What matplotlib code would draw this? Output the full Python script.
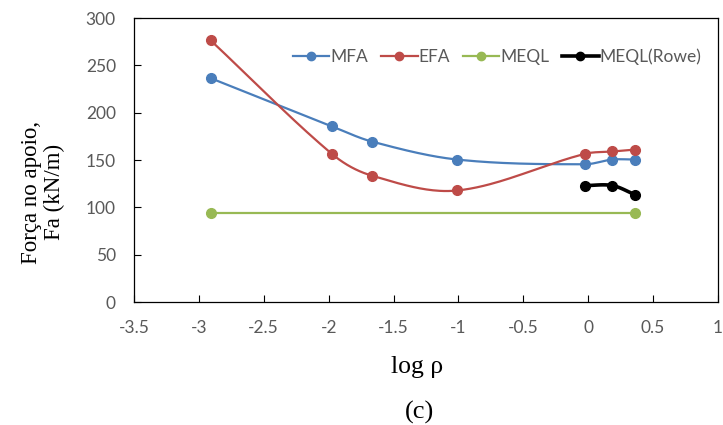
# coding=utf-8
# Força no apoio vs log rho (c)

import numpy as np
import matplotlib
matplotlib.use('Agg')
import matplotlib.pyplot as plt

# dados
x_mfa = [-2.91, -1.975, -1.667, -1.01, -0.025, 0.187, 0.36]
y_mfa = [236.5, 185.6, 169.5, 150.5, 145.5, 150.5, 150.5]

x_efa = [-2.91, -1.975, -1.667, -1.01, -0.025, 0.187, 0.36]
y_efa = [276.5, 156.5, 133.5, 117.8, 156.5, 159.0, 161.0]

x_meql = [-2.91, 0.36]
y_meql = [94.5, 94.5]

x_rowe = [-0.025, 0.187, 0.36]
y_rowe = [123.0, 123.0, 113.5]

xticks = [-3.5, -3, -2.5, -2, -1.5, -1, -0.5, 0, 0.5, 1]
yticks = [0, 50, 100, 150, 200, 250, 300]


def suave(x, y, n=40):
    # linha suavizada (spline de Hermite em x)
    x = np.asarray(x, float)
    y = np.asarray(y, float)
    if len(x) < 3:
        return x, y
    m = np.zeros(len(x))
    m[0] = (y[1] - y[0]) / (x[1] - x[0])
    m[-1] = (y[-1] - y[-2]) / (x[-1] - x[-2])
    for i in range(1, len(x) - 1):
        m[i] = (y[i+1] - y[i-1]) / (x[i+1] - x[i-1])
    xs, ys = [], []
    t = np.linspace(0, 1, n)
    for i in range(len(x) - 1):
        h = x[i+1] - x[i]
        h00 = 2*t**3 - 3*t**2 + 1
        h10 = t**3 - 2*t**2 + t
        h01 = -2*t**3 + 3*t**2
        h11 = t**3 - t**2
        xs.extend(x[i] + t*h)
        ys.extend(h00*y[i] + h10*h*m[i] + h01*y[i+1] + h11*h*m[i+1])
    return np.array(xs), np.array(ys)


fig = plt.figure(figsize=(7.23, 4.25), dpi=100)
ax = fig.add_axes([0.1853, 0.2894, 0.8077, 0.6682])

series = [
    (x_mfa, y_mfa, '#4A7EBB', 'MFA', 1.6),
    (x_efa, y_efa, '#BE4B48', 'EFA', 1.6),
    (x_meql, y_meql, '#98B954', 'MEQL', 1.6),
    (x_rowe, y_rowe, '#000000', 'MEQL(Rowe)', 2.6),
]
for xs, ys, cor, nome, lw in series:
    sx, sy = suave(xs, ys)
    ax.plot(sx, sy, color=cor, lw=lw, zorder=2)
    ax.plot(xs, ys, 'o', color=cor, ms=7, zorder=3)
    ax.plot([], [], '-o', color=cor, lw=lw, ms=6, label=nome)

ax.set_xlim(-3.5, 1)
ax.set_ylim(0, 300)
ax.set_xticks(xticks)
ax.set_xticklabels([('%g' % v) for v in xticks])
ax.set_yticks(yticks)
ax.tick_params(direction='in', length=5, width=0.8, colors='black',
               labelcolor='#595959', labelsize=12.5)
ax.tick_params(axis='x', pad=13)
ax.tick_params(axis='y', pad=13)
for lab in ax.get_xticklabels() + ax.get_yticklabels():
    lab.set_family('Lato')
for s in ax.spines.values():
    s.set_linewidth(0.9)

leg = ax.legend(loc='center', bbox_to_anchor=(0.622, 0.863), ncol=4,
                frameon=False, handlelength=2.1, columnspacing=0.75,
                handletextpad=0.05, prop={'family': 'Lato', 'size': 12.5})
for t in leg.get_texts():
    t.set_color('#595959')

fig.text(0.06, 0.548, u'Força no apoio,\nFa (kN/m)', rotation=90,
         ha='center', va='center', family='Liberation Serif', fontsize=16.5,
         linespacing=1.1)
fig.text(0.577, 0.122, u'log ρ', ha='center', va='baseline',
         family='Liberation Serif', fontsize=18.5)
fig.text(0.58, 0.016, '(c)', ha='center', va='baseline',
         family='Liberation Serif', fontsize=19)

plt.savefig('out.png', dpi=100)
